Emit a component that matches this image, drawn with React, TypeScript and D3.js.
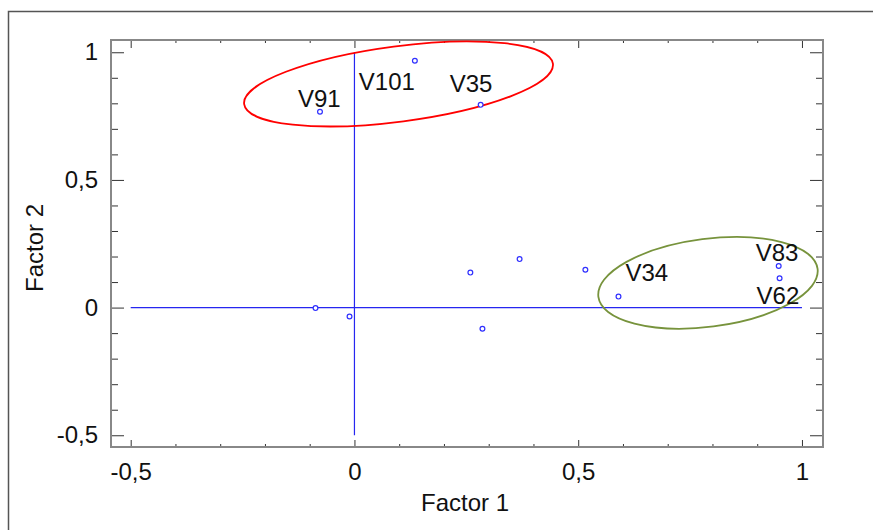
import React, { useEffect, useRef } from "react";
import * as d3 from "d3";

// loadings
const factor1 = [-0.077, 0.135, 0.282, -0.087, -0.011, 0.259, 0.369, 0.286, 0.516, 0.59, 0.948, 0.95];
const factor2 = [0.767, 0.967, 0.794, -0.002, -0.035, 0.137, 0.19, -0.083, 0.148, 0.043, 0.163, 0.115];
const varLabels = ["V91", "V101", "V35", "", "", "", "", "", "", "V34", "V83", "V62"];

const majorTicks = [-0.5, 0, 0.5, 1];
const minorTicks = [-0.4, -0.3, -0.2, -0.1, 0.1, 0.2, 0.3, 0.4, 0.6, 0.7, 0.8, 0.9];

// groups circled on the plot: centre in factor units
const groupCx = [0.0985, 0.79];
const groupCy = [0.876, 0.097];

// label offsets (px) from their point
const labelDx: Record<string, number> = { V91: -22, V101: -56, V35: -31, V34: 7, V83: -23, V62: -23 };
const labelDy: Record<string, number> = { V91: -5, V101: 29, V35: -13, V34: -16, V83: -5, V62: 26 };
const groupShape = [
  { rx: 155.7, ry: 37.7, angle: -7.45, color: "#ff0000" },
  { rx: 110.5, ry: 44, angle: -7.3, color: "#77933c" },
];

const W = 873;
const H = 530;
const FONT = "'Liberation Sans', Arial, sans-serif";
const FS = 24;

export default function App() {
  const ref = useRef<SVGSVGElement>(null);

  useEffect(() => {
    const svg = d3.select(ref.current);
    svg.selectAll("*").remove();

    const left = 111, right = 823, top = 40, bottom = 447;
    const x = d3.scaleLinear().domain([-0.544, 1.047]).range([left, right]);
    const y = d3.scaleLinear().domain([-0.546, 1.048]).range([bottom, top]);

    const loc = d3.formatLocale({ decimal: ",", thousands: ".", grouping: [3], currency: ["", ""], minus: "-" });
    const fmt = loc.format("");

    // outer frame
    svg
      .append("rect")
      .attr("x", 8.5)
      .attr("y", 11.5)
      .attr("width", 900)
      .attr("height", 560)
      .attr("fill", "none")
      .attr("stroke", "#555")
      .attr("stroke-width", 1.5);

    // ticks (inward, on all four sides)
    const tickAxis = (axis: any, tv: number[], size: number, tx: number, ty: number) => {
      const g = svg
        .append("g")
        .attr("transform", `translate(${tx},${ty})`)
        .call(axis.tickValues(tv).tickSize(-size).tickFormat(() => ""));
      g.select(".domain").remove();
      g.selectAll("line").attr("stroke", "#333").attr("stroke-width", 1);
    };
    tickAxis(d3.axisBottom(x), majorTicks, 7, 0, bottom);
    tickAxis(d3.axisBottom(x), minorTicks, 3, 0, bottom);
    tickAxis(d3.axisTop(x), majorTicks, 8, 0, top);
    tickAxis(d3.axisTop(x), minorTicks, 3, 0, top);
    tickAxis(d3.axisLeft(y), majorTicks, 13, left, 0);
    tickAxis(d3.axisLeft(y), minorTicks, 7, left, 0);
    tickAxis(d3.axisRight(y), majorTicks, 13, right, 0);
    tickAxis(d3.axisRight(y), minorTicks, 7, right, 0);

    // tick labels
    const xl = svg
      .append("g")
      .attr("transform", `translate(0,${bottom})`)
      .call(d3.axisBottom(x).tickValues(majorTicks).tickSize(0).tickPadding(16).tickFormat((d: any) => fmt(d)));
    const yl = svg
      .append("g")
      .attr("transform", `translate(${left},0)`)
      .call(d3.axisLeft(y).tickValues(majorTicks).tickSize(0).tickPadding(13).tickFormat((d: any) => fmt(d)));
    [xl, yl].forEach((g) => {
      g.select(".domain").remove();
      g.selectAll("text").attr("font-family", FONT).attr("font-size", FS).attr("fill", "#111");
    });

    // plot box
    svg
      .append("rect")
      .attr("x", left)
      .attr("y", top)
      .attr("width", right - left)
      .attr("height", bottom - top)
      .attr("fill", "none")
      .attr("stroke", "#888")
      .attr("stroke-width", 2);

    // zero lines
    svg
      .append("line")
      .attr("x1", x(-0.5))
      .attr("x2", x(1))
      .attr("y1", y(0))
      .attr("y2", y(0))
      .attr("stroke", "#2626f0")
      .attr("stroke-width", 1.2);
    svg
      .append("line")
      .attr("x1", x(0))
      .attr("x2", x(0))
      .attr("y1", y(-0.5))
      .attr("y2", y(1))
      .attr("stroke", "#2626f0")
      .attr("stroke-width", 1.2);

    // group ellipses
    groupCx.forEach((cx, i) => {
      const s = groupShape[i];
      svg
        .append("ellipse")
        .attr("transform", `translate(${x(cx)},${y(groupCy[i])}) rotate(${s.angle})`)
        .attr("rx", s.rx)
        .attr("ry", s.ry)
        .attr("fill", "none")
        .attr("stroke", s.color)
        .attr("stroke-width", 1.8);
    });

    // points
    svg
      .selectAll("circle.pt")
      .data(factor1)
      .join("circle")
      .attr("class", "pt")
      .attr("cx", (d) => x(d))
      .attr("cy", (d, i) => y(factor2[i]))
      .attr("r", 2.4)
      .attr("fill", "white")
      .attr("stroke", "#3030ff")
      .attr("stroke-width", 1.2);

    // point labels
    varLabels.forEach((lab, i) => {
      if (!lab) return;
      svg
        .append("text")
        .attr("x", x(factor1[i]) + labelDx[lab])
        .attr("y", y(factor2[i]) + labelDy[lab])
        .attr("font-family", FONT)
        .attr("font-size", FS)
        .attr("fill", "#111")
        .text(lab);
    });

    // axis titles
    svg
      .append("text")
      .attr("x", 465)
      .attr("y", 511)
      .attr("text-anchor", "middle")
      .attr("font-family", FONT)
      .attr("font-size", FS)
      .attr("fill", "#111")
      .text("Factor 1");
    svg
      .append("text")
      .attr("transform", "translate(43,248) rotate(-90)")
      .attr("text-anchor", "middle")
      .attr("font-family", FONT)
      .attr("font-size", FS)
      .attr("fill", "#111")
      .text("Factor 2");
  }, []);

  return (
    <svg
      ref={ref}
      width={W}
      height={H}
      style={{ position: "absolute", left: 0, top: 0, display: "block", background: "white" }}
    ></svg>
  );
}
